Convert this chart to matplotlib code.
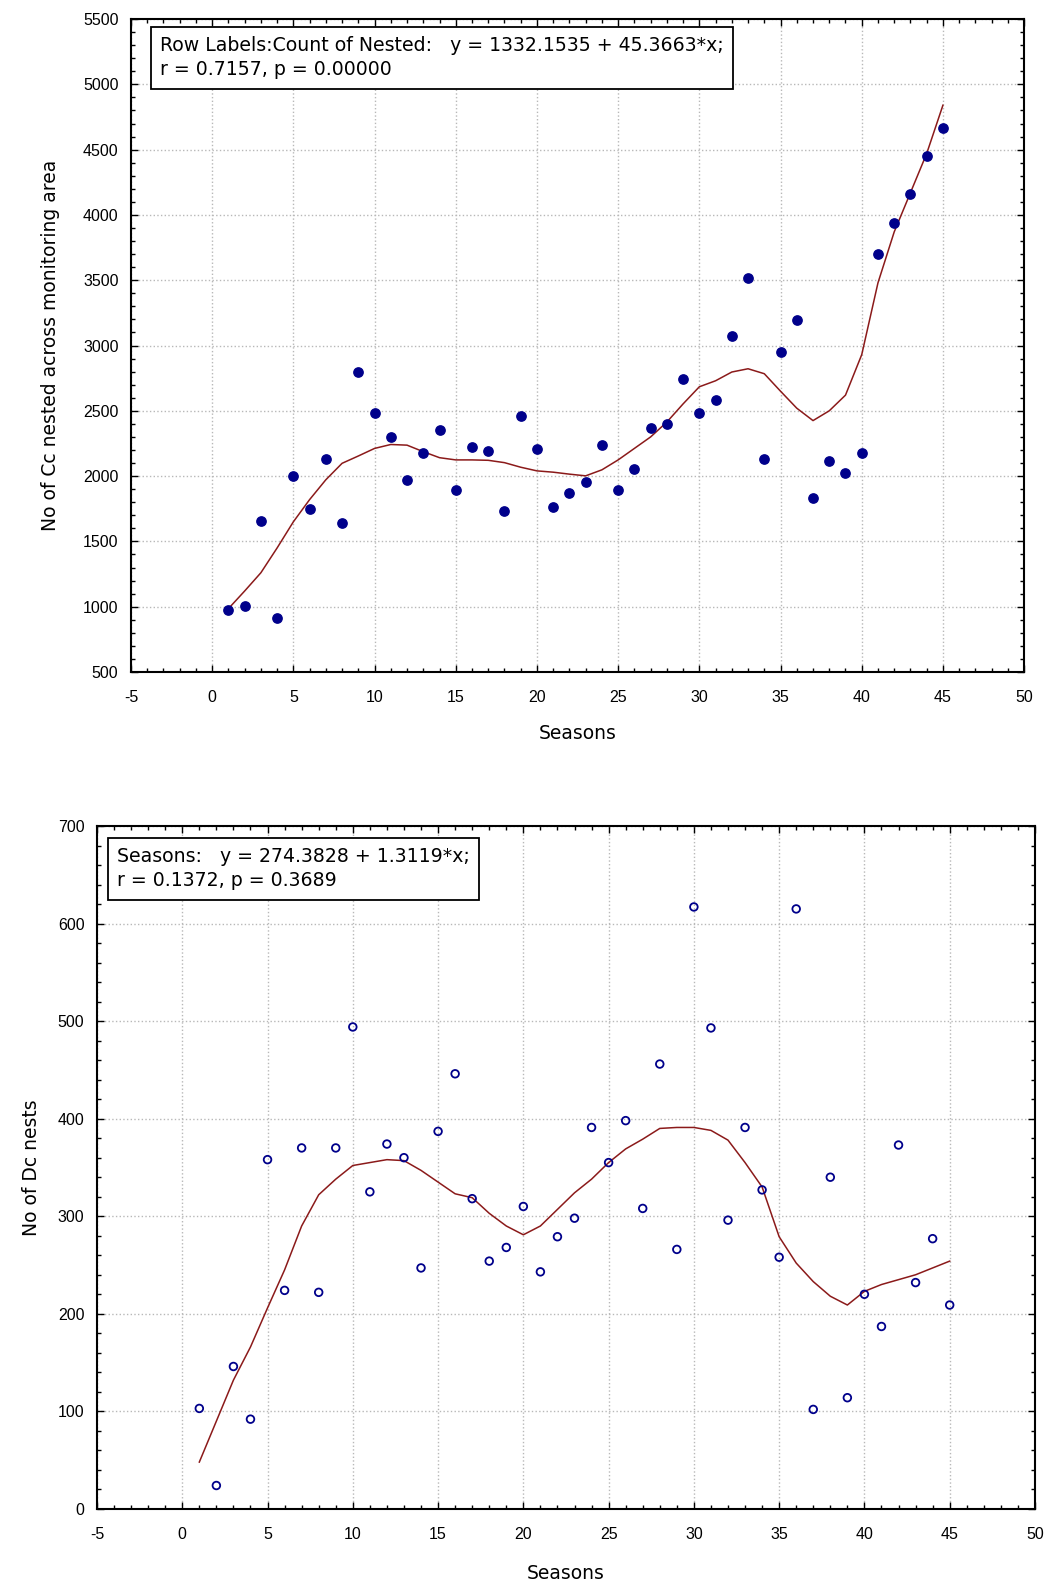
import numpy as np
import matplotlib
matplotlib.use("Agg")
import matplotlib.pyplot as plt
from matplotlib.ticker import MultipleLocator, AutoMinorLocator

plt.rcParams['font.family'] = ['Liberation Sans', 'DejaVu Sans']
plt.rcParams['axes.unicode_minus'] = False

seasons = np.arange(1, 46)

# Cc nested counts (top panel)
cc_nested = [975, 1005, 1656, 914, 2000, 1745, 2134, 1641, 2800, 2480,
             2298, 1970, 2174, 2356, 1894, 2222, 2194, 1730, 2460, 2207,
             1765, 1869, 1954, 2237, 1896, 2058, 2371, 2401, 2740, 2480,
             2580, 3071, 3518, 2134, 2954, 3193, 1836, 2119, 2025, 2177,
             3701, 3940, 4161, 4448, 4669]
cc_smooth = [985, 1120, 1260, 1450, 1650, 1820, 1972, 2098, 2154, 2212,
             2242, 2237, 2187, 2141, 2124, 2124, 2121, 2103, 2068, 2040,
             2030, 2015, 2002, 2048, 2124, 2212, 2300, 2414, 2553, 2684,
             2730, 2797, 2822, 2784, 2650, 2520, 2425, 2500, 2620, 2930,
             3480, 3870, 4170, 4470, 4840]

# Dc nests (bottom panel)
dc_nests = [103, 24, 146, 92, 358, 224, 370, 222, 370, 494,
            325, 374, 360, 247, 387, 446, 318, 254, 268, 310,
            243, 279, 298, 391, 355, 398, 308, 456, 266, 617,
            493, 296, 391, 327, 258, 615, 102, 340, 114, 220,
            187, 373, 232, 277, 209]
dc_smooth = [48, 90, 132, 166, 206, 245, 290, 322, 338, 352,
             355, 358, 357, 347, 335, 323, 319, 303, 290, 281,
             290, 307, 324, 338, 355, 369, 379, 390, 391, 391,
             388, 378, 355, 330, 279, 252, 233, 218, 209, 223,
             230, 235, 240, 247, 254]

top_label = "Row Labels:Count of Nested:   y = 1332.1535 + 45.3663*x;\nr = 0.7157, p = 0.00000"
bot_label = "Seasons:   y = 274.3828 + 1.3119*x;\nr = 0.1372, p = 0.3689"

navy = "#00008B"
red = "#8B1A1A"
wide = ['DejaVu Sans']

fig = plt.figure(figsize=(10.52, 15.86), dpi=100)
ax1 = fig.add_axes([0.1245, 0.5763, 0.849, 0.4117])
ax2 = fig.add_axes([0.0922, 0.0486, 0.8916, 0.4306])


def style(ax, ymaj):
    ax.xaxis.set_major_locator(MultipleLocator(5))
    ax.xaxis.set_minor_locator(AutoMinorLocator(5))
    ax.yaxis.set_major_locator(MultipleLocator(ymaj))
    ax.yaxis.set_minor_locator(AutoMinorLocator(5))
    ax.tick_params(which='both', direction='in', top=True, right=True,
                   labelsize=11.5, colors='black')
    ax.tick_params(which='major', length=5, width=1)
    ax.tick_params(which='minor', length=3, width=1)
    ax.tick_params(axis='x', which='major', pad=13)
    ax.tick_params(axis='y', which='major', pad=9)
    ax.grid(True, which='major', color='#b8b8b8', linestyle=':', linewidth=1)
    for s in ax.spines.values():
        s.set_linewidth(1.5)
    ax.set_xlabel("Seasons", fontsize=13.5, family=wide)


# Top panel
ax1.scatter(seasons, cc_nested, s=45, color=navy, zorder=3)
ax1.plot(seasons, cc_smooth, color=red, linewidth=1.1, zorder=2)
ax1.set_xlim(-5, 50)
ax1.set_ylim(500, 5500)
style(ax1, 500)
ax1.set_ylabel("No of Cc nested across monitoring area", fontsize=13.5, family=wide)
ax1.yaxis.set_label_coords(-0.080, 0.5)
ax1.xaxis.set_label_coords(0.5, -0.0796)
ax1.text(0.0325, 0.974, top_label, transform=ax1.transAxes, fontsize=13.6, family=wide,
         va='top', ha='left', linespacing=1.35,
         bbox=dict(boxstyle='square,pad=0.5', facecolor='white', edgecolor='black', linewidth=1.3),
         zorder=5)

# Bottom panel
ax2.scatter(seasons, dc_nests, s=30, facecolors='none', edgecolors=navy, linewidths=1.3, zorder=3)
ax2.plot(seasons, dc_smooth, color=red, linewidth=1.1, zorder=2)
ax2.set_xlim(-5, 50)
ax2.set_ylim(0, 700)
style(ax2, 100)
ax2.set_ylabel("No of Dc nests", fontsize=13.5, family=wide)
ax2.yaxis.set_label_coords(-0.060, 0.5)
ax2.xaxis.set_label_coords(0.5, -0.0805)
ax2.text(0.0215, 0.969, bot_label, transform=ax2.transAxes, fontsize=13.6, family=wide,
         va='top', ha='left', linespacing=1.35,
         bbox=dict(boxstyle='square,pad=0.5', facecolor='white', edgecolor='black', linewidth=1.3),
         zorder=5)

fig.savefig("out.png", dpi=100)
